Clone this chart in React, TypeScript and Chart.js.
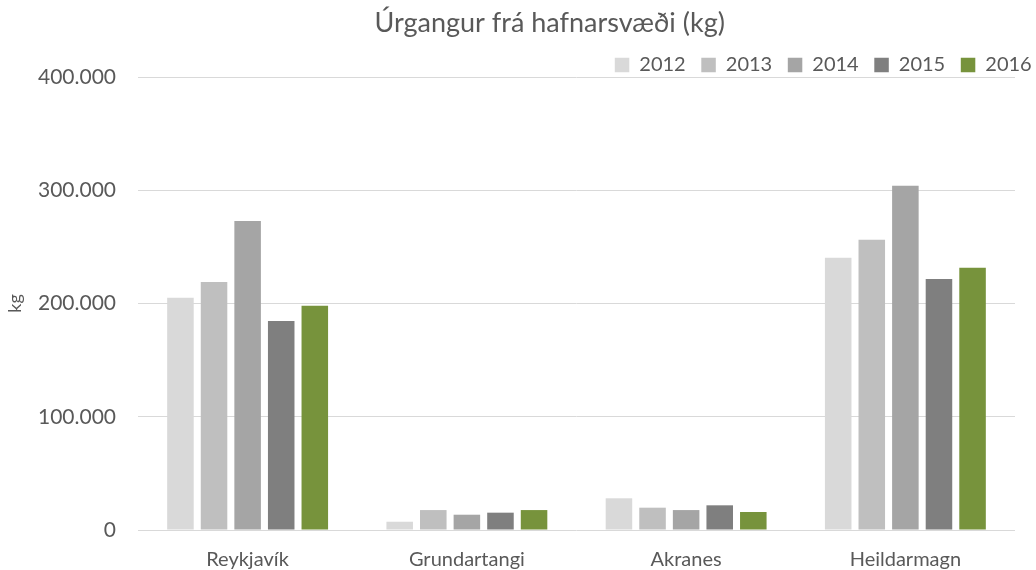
import React, { useEffect, useRef } from "react";
import { Chart, registerables } from "chart.js";

Chart.register(...registerables);

const categories = ["Reykjavík", "Grundartangi", "Akranes", "Heildarmagn"];
const years = ["2012", "2013", "2014", "2015", "2016"];
const values2012 = [205100, 7300, 28000, 240400];
const values2013 = [219000, 17600, 19700, 256300];
const values2014 = [272800, 13500, 17600, 304000];
const values2015 = [184500, 15300, 21800, 221600];
const values2016 = [198100, 17600, 15900, 231600];
const seriesColors = ["#D9D9D9", "#BFBFBF", "#A5A5A5", "#7F7F7F", "#77933C"];
const yTickValues = [0, 100000, 200000, 300000, 400000];

const titleText = "Úrgangur frá hafnarsvæði (kg)";
const yAxisTitle = "kg";

const formatThousands = (v: number) =>
  String(Math.round(v)).replace(/\B(?=(\d{3})+(?!\d))/g, ".");

export default function App() {
  const canvasRef = useRef<HTMLCanvasElement | null>(null);

  useEffect(() => {
    document.body.style.margin = "0";
    const canvas = canvasRef.current;
    if (!canvas) return;
    Chart.defaults.font.family = "Lato";
    const textColor = "#595959";
    const seriesValues = [values2012, values2013, values2014, values2015, values2016];

    const tickFontSize = 21;
    const ctx2d = canvas.getContext("2d");
    let widest = 0;
    if (ctx2d) {
      ctx2d.font = `${tickFontSize}px Lato`;
      yTickValues.forEach((v) => {
        widest = Math.max(widest, ctx2d.measureText(formatThousands(v)).width);
      });
    }

    const padLeft = 52.1;
    const plotLeft = 138;

    const chart = new Chart(canvas, {
      type: "bar",
      data: {
        labels: categories,
        datasets: years.map((y, i) => ({
          label: y,
          data: seriesValues[i],
          backgroundColor: seriesColors[i],
          borderWidth: 0,
          categoryPercentage: 0.766,
          barPercentage: 0.79,
          yAxisID: "y",
        })),
      },
      options: {
        responsive: false,
        animation: false,
        layout: { padding: { left: padLeft, right: -11.3, top: 0, bottom: 0 } },
        plugins: {
          tooltip: { enabled: false },
          title: {
            display: true,
            text: titleText,
            color: textColor,
            font: { size: 27, weight: "normal" },
            padding: { top: 7, bottom: 0 },
          },
          legend: {
            display: true,
            position: "top",
            align: "end",
            maxHeight: 37.6,
            labels: {
              boxWidth: 14.5,
              boxHeight: 14.5,
              padding: 15.6,
              color: textColor,
              font: { size: 20 },
            },
          },
        },
        scales: {
          x: {
            grid: { display: false, drawTicks: false },
            border: { display: false },
            ticks: { color: textColor, font: { size: 20 }, padding: 17.5 },
            afterFit: (scale: any) => {
              scale.height = 40;
            },
          },
          y: {
            min: 0,
            max: 400000,
            afterBuildTicks: (scale: any) => {
              scale.ticks = yTickValues.map((v) => ({ value: v }));
            },
            grid: { color: "#D9D9D9", lineWidth: 1, drawTicks: false },
            border: { display: false },
            ticks: {
              color: textColor,
              font: { size: tickFontSize },
              mirror: true,
              crossAlign: "far",
              padding: -(22 + widest),
              callback: (v: any) => formatThousands(Number(v)),
            },
            title: {
              display: true,
              text: yAxisTitle,
              color: textColor,
              font: { size: 18 },
              padding: { top: -47.9, bottom: 0 },
            },
            afterFit: (scale: any) => {
              scale.width = plotLeft - padLeft;
            },
          },
          y2: {
            position: "right",
            display: true,
            grid: { display: false, drawTicks: false },
            border: { display: false },
            ticks: { display: false },
            afterFit: (scale: any) => {
              scale.width = 32.3;
            },
          },
        },
      },
    });
    return () => chart.destroy();
  }, []);

  return (
    <div style={{ width: 1036, height: 570 }}>
      <canvas ref={canvasRef} width={1036} height={570} style={{ display: "block" }} />
    </div>
  );
}
